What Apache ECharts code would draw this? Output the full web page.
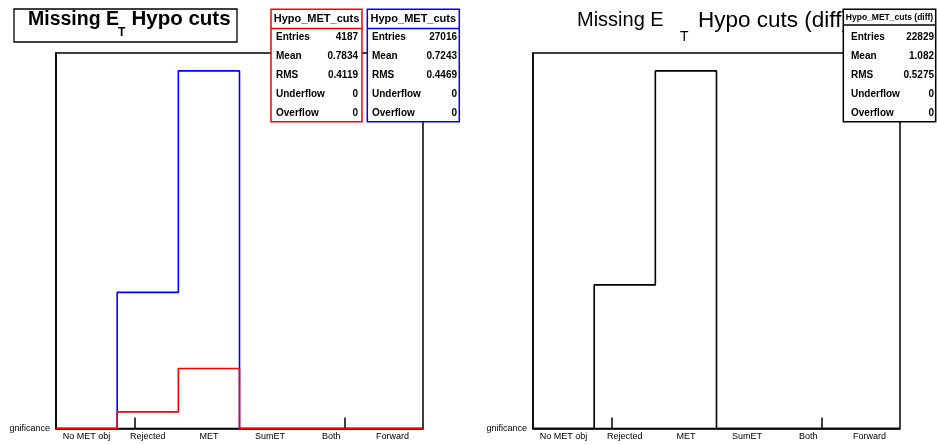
<!DOCTYPE html>
<html>
<head>
<meta charset="utf-8">
<script src="https://cdn.jsdelivr.net/npm/echarts@6/dist/echarts.min.js"></script>
<style>
  html, body { margin: 0; padding: 0; background: #fff; }
  #chart { width: 937px; height: 444px; }
</style>
</head>
<body>
<div id="chart"></div>
<script>
// ---- data ----
const categories = ['No MET obj', 'Rejected', 'MET', 'SumET', 'Both', 'Forward'];
const redCounts  = [0, 907, 3280, 0, 0, 0];      // Hypo_MET_cuts (red)
const blueCounts = [0, 7448, 19568, 0, 0, 0];    // Hypo_MET_cuts (blue)
const diffCounts = [0, 6541, 16288, 0, 0, 0];    // Hypo_MET_cuts (diff)
const tickPositions = [1.28, 4.72];
const edgeLabel = 'gnificance';
const statLabels = ['Entries', 'Mean', 'RMS', 'Underflow', 'Overflow'];
const redStats  = ['4187', '0.7834', '0.4119', '0', '0'];
const blueStats = ['27016', '0.7243', '0.4469', '0', '0'];
const diffStats = ['22829', '1.082', '0.5275', '0', '0'];
const statTitles = ['Hypo_MET_cuts', 'Hypo_MET_cuts', 'Hypo_MET_cuts (diff)'];

// ---- helpers ----
const FONT = '"Liberation Sans", Arial, Helvetica, sans-serif';
function stepPoints(counts) {
  const pts = counts.map((v, i) => [i, v]);
  pts.push([counts.length, counts[counts.length - 1]]);
  return pts;
}
const yMaxLeft = Math.max(...blueCounts, ...redCounts) * 1.05;
const yMaxRight = Math.max(...diffCounts) * 1.05;
const labelValues = categories.map((c, i) => i + 0.5);

function xAxisFor(gi) {
  return {
    type: 'value', gridIndex: gi, min: 0, max: categories.length,
    axisLine: { show: true, lineStyle: { color: '#000', width: 1.5 } },
    axisTick: { show: true, inside: true, length: 11, customValues: tickPositions,
                lineStyle: { color: '#000', width: 1.5 } },
    axisLabel: { customValues: labelValues, formatter: v => categories[Math.floor(v)],
                 fontSize: 9, color: '#000', fontFamily: FONT, margin: 4 },
    splitLine: { show: false }
  };
}
function yAxisFor(gi, max) {
  return {
    type: 'value', gridIndex: gi, min: 0, max: max,
    axisLine: { show: true, lineStyle: { color: '#000', width: 1.5 } },
    axisTick: { show: false },
    splitLine: { show: false },
    axisLabel: { customValues: [0], formatter: () => edgeLabel,
                 fontSize: 9, color: '#000', fontFamily: FONT, margin: 6 }
  };
}
function histSeries(counts, color, gi) {
  return {
    type: 'line', xAxisIndex: gi, yAxisIndex: gi, step: 'end',
    data: stepPoints(counts), symbol: 'none', clip: false,
    lineStyle: { color: color, width: 1.6 }, animation: false,
    emphasis: { disabled: true }, silent: true
  };
}
function txt(text, x, y, size, weight, align, color, z) {
  return {
    type: 'text', z: z || 10, silent: true,
    style: { text: text, x: x, y: y, font: weight + ' ' + size + 'px ' + FONT,
             fill: color || '#000', textAlign: align || 'left', textVerticalAlign: 'middle',
             align: align || 'left', verticalAlign: 'middle' }
  };
}
function statsBox(x0, x1, y0, y1, sepY, color, title, titleSize, values, labelX, valueX, z) {
  const els = [];
  els.push({ type: 'rect', z: z, silent: true,
             shape: { x: x0, y: y0, width: x1 - x0, height: y1 - y0 },
             style: { fill: '#fff', stroke: color, lineWidth: 1.5 } });
  els.push({ type: 'line', z: z, silent: true,
             shape: { x1: x0, y1: sepY, x2: x1, y2: sepY },
             style: { stroke: color, lineWidth: 1.5 } });
  els.push(txt(title, (x0 + x1) / 2, (y0 + sepY) / 2 + 0.5, titleSize, 'bold', 'center', '#000', z + 1));
  const rowY = [37, 56, 75, 94, 113];
  statLabels.forEach((l, i) => {
    els.push(txt(l, labelX, rowY[i], 10, 'bold', 'left', '#000', z + 1));
    els.push(txt(values[i], valueX, rowY[i], 10, 'bold', 'right', '#000', z + 1));
  });
  return els;
}

const graphics = [];
// left title pave
graphics.push({ type: 'rect', z: 10, silent: true,
                shape: { x: 14, y: 9, width: 223, height: 33 },
                style: { fill: '#fff', stroke: '#000', lineWidth: 1.3 } });
graphics.push(txt('Missing E', 28, 19.5, 19.5, 'bold', 'left', '#000', 11));
graphics.push(txt('T', 118, 33, 12, 'bold', 'left', '#000', 11));
graphics.push(txt('Hypo cuts', 131.5, 19.5, 20.5, 'bold', 'left', '#000', 11));
// right title
graphics.push(txt('Missing E', 577, 20.5, 20, 'normal', 'left', '#000', 5));
graphics.push(txt('T', 680, 37, 14, 'normal', 'left', '#000', 5));
graphics.push(txt('Hypo cuts (diff)', 698, 20.5, 22.5, 'normal', 'left', '#000', 5));
// stats boxes
graphics.push(...statsBox(271, 362, 9.3, 121.7, 28.5, '#ff0000', statTitles[0], 11, redStats, 276, 358, 20));
graphics.push(...statsBox(367.3, 459.3, 9.3, 121.7, 28.5, '#0000ff', statTitles[1], 11, blueStats, 372, 457, 20));
graphics.push(...statsBox(843.3, 935.7, 9.3, 121.7, 25, '#000', statTitles[2], 8.5, diffStats, 851, 934, 20));

const chart = echarts.init(document.getElementById('chart'), null, { renderer: 'canvas' });
chart.setOption({
  animation: false,
  backgroundColor: '#fff',
  grid: [
    { left: 56, top: 53, width: 367, height: 375.5, show: true, borderColor: '#000', borderWidth: 1.5, backgroundColor: 'transparent' },
    { left: 533, top: 53, width: 367, height: 375.5, show: true, borderColor: '#000', borderWidth: 1.5, backgroundColor: 'transparent' }
  ],
  xAxis: [xAxisFor(0), xAxisFor(1)],
  yAxis: [yAxisFor(0, yMaxLeft), yAxisFor(1, yMaxRight)],
  series: [
    histSeries(blueCounts, '#0000ff', 0),
    histSeries(redCounts, '#ff0000', 0),
    histSeries(diffCounts, '#000000', 1)
  ],
  graphic: graphics
});
</script>
</body>
</html>
